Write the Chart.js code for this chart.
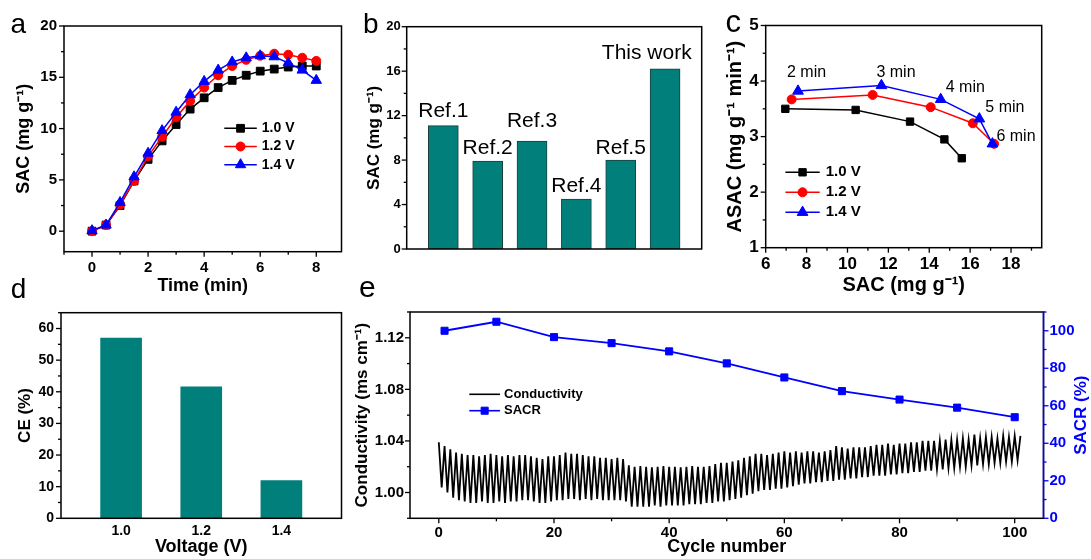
<!DOCTYPE html>
<html>
<head>
<meta charset="utf-8">
<title>Desalination performance</title>
<script src="https://cdn.jsdelivr.net/npm/chart.js@4.4.1/dist/chart.umd.min.js"></script>
<style>
  html, body { margin: 0; padding: 0; background: #fff; }
  #page { position: relative; width: 1091px; height: 559px; overflow: hidden; background: #fff; }
  #page canvas { position: absolute; left: 0; top: 0; }
  .tag { position: absolute; font-family: 'Liberation Sans', Arial, sans-serif; color: #000; white-space: nowrap; }
</style>
</head>
<body>
<div id="page">
  <canvas id="chartA" width="1091" height="559"></canvas>
  <canvas id="chartB" width="1091" height="559"></canvas>
  <canvas id="chartC" width="1091" height="559"></canvas>
  <canvas id="chartD" width="1091" height="559"></canvas>
  <canvas id="chartE" width="1091" height="559"></canvas>
  <div class="tag" style="left:10.5px;top:9.6px;font-size:28px;line-height:28px">a</div>
  <div class="tag" style="left:363px;top:9.6px;font-size:28px;line-height:28px">b</div>
  <div class="tag" style="left:725.5px;top:6.1px;font-size:31px;line-height:31px">c</div>
  <div class="tag" style="left:10.7px;top:274.6px;font-size:28px;line-height:28px">d</div>
  <div class="tag" style="left:359px;top:272px;font-size:30px;line-height:30px">e</div>
</div>
<script>
// ---------- (a) SAC vs time ----------
const voltLabels = ['1.0 V', '1.2 V', '1.4 V'];
const timeMin = [0, 0.5, 1, 1.5, 2, 2.5, 3, 3.5, 4, 4.5, 5, 5.5, 6, 6.5, 7, 7.5, 8];
const sac10V = [0, 0.6, 2.5, 4.9, 7.0, 8.8, 10.4, 11.9, 13.0, 14.0, 14.7, 15.2, 15.6, 15.8, 16.0, 16.1, 16.1];
const sac12V = [0, 0.6, 2.6, 4.9, 7.3, 9.2, 11.1, 12.7, 14.0, 15.2, 16.1, 16.7, 17.1, 17.3, 17.2, 16.9, 16.6];
const sac14V = [0.05, 0.6, 2.8, 5.3, 7.6, 9.8, 11.6, 13.3, 14.6, 15.7, 16.5, 16.9, 17.1, 17.0, 16.4, 15.7, 14.7];
const timeTicks = [0, 2, 4, 6, 8];
const sacTicksA = [0, 5, 10, 15, 20];

// ---------- (b) comparison with literature ----------
const refNames = ['Ref.1', 'Ref.2', 'Ref.3', 'Ref.4', 'Ref.5', 'This work'];
const refSac = [11.1, 7.9, 9.7, 4.5, 8.0, 16.2];
const sacTicksB = [0, 4, 8, 12, 16, 20];

// ---------- (c) Kim-Yoon plot ----------
const cMinutes = ['2 min', '3 min', '4 min', '5 min', '6 min'];
const cSac10V = [6.96, 10.40, 13.06, 14.74, 15.59];
const cAsac10V = [3.50, 3.48, 3.27, 2.95, 2.61];
const cSac12V = [7.27, 11.23, 14.07, 16.13, 17.17];
const cAsac12V = [3.67, 3.75, 3.53, 3.24, 2.87];
const cSac14V = [7.58, 11.66, 14.56, 16.45, 17.09];
const cAsac14V = [3.82, 3.92, 3.67, 3.32, 2.87];
const sacTicksC = [6, 8, 10, 12, 14, 16, 18];
const asacTicks = [1, 2, 3, 4, 5];

// ---------- (d) charge efficiency ----------
const voltages = [1.0, 1.2, 1.4];
const ceValues = [57.0, 41.6, 11.9];
const ceTicks = [0, 10, 20, 30, 40, 50, 60];

// ---------- (e) cycling ----------
const sacrCycles = [1, 10, 20, 30, 40, 50, 60, 70, 80, 90, 100];
const sacrValues = [100.0, 104.8, 96.6, 93.4, 89.0, 82.6, 75.1, 67.8, 63.3, 59.0, 53.9];
// conductivity maximum at the start of each cycle (cycles 0..101)
const condPeaks = [
  1.039, 1.036, 1.0335, 1.031, 1.030, 1.029, 1.029, 1.028, 1.029, 1.030,
  1.029, 1.028, 1.029, 1.028, 1.029, 1.029, 1.028, 1.027, 1.026, 1.028,
  1.028, 1.029, 1.031, 1.030, 1.030, 1.029, 1.028, 1.028, 1.027, 1.027,
  1.026, 1.027, 1.026, 1.021, 1.020, 1.0205, 1.020, 1.0195, 1.020, 1.0205,
  1.020, 1.020, 1.0195, 1.020, 1.0205, 1.020, 1.020, 1.0205, 1.022, 1.023,
  1.023, 1.024, 1.025, 1.027, 1.028, 1.030, 1.030, 1.029, 1.030, 1.031,
  1.032, 1.031, 1.032, 1.031, 1.032, 1.032, 1.031, 1.032, 1.033, 1.036,
  1.035, 1.034, 1.035, 1.035, 1.035, 1.036, 1.037, 1.037, 1.038, 1.037,
  1.038, 1.038, 1.039, 1.039, 1.040, 1.040, 1.040, 1.040, 1.041, 1.041,
  1.041, 1.042, 1.041, 1.045, 1.042, 1.043, 1.043, 1.042, 1.044, 1.043,
  1.044, 1.044
];
// conductivity minimum reached within each cycle (cycles 0..100)
const condTroughs = [
  1.004, 1.000, 0.996, 0.994, 0.993, 0.992, 0.992, 0.993, 0.992, 0.992,
  0.993, 0.992, 0.993, 0.993, 0.994, 0.994, 0.993, 0.992, 0.992, 0.993,
  0.994, 0.994, 0.995, 0.995, 0.994, 0.995, 0.994, 0.995, 0.994, 0.994,
  0.994, 0.994, 0.993, 0.989, 0.989, 0.989, 0.989, 0.990, 0.989, 0.990,
  0.990, 0.990, 0.990, 0.991, 0.991, 0.991, 0.992, 0.992, 0.993, 0.993,
  0.994, 0.995, 0.996, 0.998, 0.999, 1.001, 1.002, 1.002, 1.003, 1.003,
  1.004, 1.005, 1.006, 1.007, 1.007, 1.008, 1.008, 1.009, 1.009, 1.010,
  1.010, 1.011, 1.011, 1.012, 1.012, 1.013, 1.013, 1.013, 1.014, 1.014,
  1.015, 1.015, 1.016, 1.016, 1.017, 1.017, 1.018, 1.018, 1.019, 1.019,
  1.020, 1.020, 1.021, 1.021, 1.022, 1.022, 1.023, 1.023, 1.024, 1.024,
  1.025
];
const cycleTicks = [0, 20, 40, 60, 80, 100];
const condTicks = [1.00, 1.04, 1.08, 1.12];
const sacrTicks = [0, 20, 40, 60, 80, 100];

// ---------- shared helpers ----------
const FONT = "'Liberation Sans', Arial, Helvetica, sans-serif";
const TEAL = '#007f7b';
Chart.defaults.font.family = FONT;
Chart.defaults.color = '#000';

function bold(size) { return { family: FONT, size: size, weight: 'bold' }; }

// major ticks plus one minor tick half-way between them (and past the ends when in range)
function tickValues(majors, lo, hi, withMinor) {
  const out = majors.slice();
  if (withMinor && majors.length > 1) {
    const half = (majors[1] - majors[0]) / 2;
    for (let i = 0; i < majors.length - 1; i++) out.push(+((majors[i] + majors[i + 1]) / 2).toFixed(6));
    const first = majors[0] - half, last = majors[majors.length - 1] + half;
    if (first >= lo - 1e-9) out.push(+first.toFixed(6));
    if (last <= hi + 1e-9) out.push(+last.toFixed(6));
  }
  return out.sort((a, b) => a - b);
}

function linearAxis(c) {
  const values = tickValues(c.majors, c.min, c.max, c.minor !== false);
  return {
    type: 'linear', position: c.position, min: c.min, max: c.max, offset: false,
    grid: { display: false, drawTicks: false },
    border: { display: false },
    ticks: {
      autoSkip: false, maxRotation: 0, minRotation: 0, padding: c.pad,
      color: c.color || '#000', font: bold(c.size),
      callback: (v) => c.majors.some(m => Math.abs(m - v) < 1e-9) ? Number(v).toFixed(c.decimals) : ''
    },
    title: c.title
      ? { display: true, text: c.title, font: bold(c.titleSize), color: c.color || '#000', padding: 0 }
      : { display: false },
    afterBuildTicks: (s) => { s.ticks = values.map(v => ({ value: v })); },
    afterFit: (s) => {
      if (s.isHorizontal()) s.height = c.fit; else s.width = c.fit;
      s.paddingLeft = 0; s.paddingRight = 0; s.paddingTop = 0; s.paddingBottom = 0;
    }
  };
}

function series(label, xs, ys, color, style, r, order, extra) {
  return Object.assign({
    label: label,
    data: xs.map((x, i) => ({ x: x, y: ys[i] })),
    borderColor: color, backgroundColor: color,
    pointBackgroundColor: color, pointBorderColor: color,
    pointStyle: style, pointRadius: r, pointBorderWidth: 1,
    borderWidth: 1.5, tension: 0, order: order
  }, extra || {});
}

function baseOptions(o) {
  return {
    responsive: false, animation: false, devicePixelRatio: 1, events: [],
    layout: { padding: o.padding },
    scales: o.scales,
    plugins: Object.assign({ legend: { display: false }, tooltip: { enabled: false } }, o.plugins)
  };
}

// plot frame with outward major/minor tick marks
const boxPlugin = {
  id: 'box',
  afterDatasetsDraw(chart, _args, o) {
    const { ctx, chartArea: a } = chart;
    ctx.save();
    ctx.lineWidth = 1.3;
    (o.marks || []).forEach(m => {
      const s = chart.scales[m.id];
      ctx.strokeStyle = m.color || '#000';
      s.ticks.forEach(t => {
        const len = t.label === '' ? 3 : 5;
        const p = s.getPixelForValue(t.value);
        ctx.beginPath();
        if (s.position === 'bottom') { ctx.moveTo(p, a.bottom); ctx.lineTo(p, a.bottom + len); }
        else if (s.position === 'left') { ctx.moveTo(a.left, p); ctx.lineTo(a.left - len, p); }
        else { ctx.moveTo(a.right, p); ctx.lineTo(a.right + len, p); }
        ctx.stroke();
      });
    });
    ctx.lineWidth = 1.5;
    ctx.strokeStyle = '#000';
    ctx.strokeRect(a.left, a.top, a.right - a.left, a.bottom - a.top);
    if (o.rightColor) {
      ctx.strokeStyle = o.rightColor;
      ctx.beginPath(); ctx.moveTo(a.right, a.top); ctx.lineTo(a.right, a.bottom); ctx.stroke();
    }
    ctx.restore();
  }
};

// in-plot legend built from the datasets
const keyPlugin = {
  id: 'keys',
  afterDraw(chart, _args, o) {
    if (o.x === undefined) return;
    const { ctx, chartArea: a } = chart;
    ctx.save();
    chart.data.datasets.forEach((ds, i) => {
      const y = a.top + o.y + i * o.row;
      const x0 = a.left + o.x, x1 = x0 + o.line;
      ctx.strokeStyle = ds.borderColor; ctx.lineWidth = Math.min(ds.borderWidth, 1.6);
      ctx.beginPath(); ctx.moveTo(x0, y); ctx.lineTo(x1, y); ctx.stroke();
      if (ds.pointRadius > 0) {
        ctx.fillStyle = ds.pointBackgroundColor; ctx.strokeStyle = ds.pointBorderColor; ctx.lineWidth = 1;
        Chart.helpers.drawPoint(ctx, { pointStyle: ds.pointStyle, radius: ds.pointRadius, rotation: 0, borderWidth: 1 }, (x0 + x1) / 2, y);
      }
      ctx.fillStyle = '#000';
      ctx.font = 'bold ' + o.size + 'px ' + FONT;
      ctx.textBaseline = 'middle'; ctx.textAlign = 'left';
      ctx.fillText(ds.label, x1 + o.gap, y);
    });
    ctx.restore();
  }
};

// names written above the bars
const barTagPlugin = {
  id: 'barTags',
  afterDatasetsDraw(chart, _args, o) {
    if (!o.texts) return;
    const { ctx, chartArea: a } = chart;
    const bars = chart.getDatasetMeta(0).data;
    ctx.save();
    ctx.font = o.size + 'px ' + FONT; ctx.fillStyle = '#000';
    ctx.textBaseline = 'alphabetic'; ctx.textAlign = 'left';
    bars.forEach((bar, i) => {
      const w = ctx.measureText(o.texts[i]).width;
      const left = Math.min(bar.x - w / 2, a.right - o.inset - w);
      ctx.fillText(o.texts[i], left, bar.y - o.lifts[i]);
    });
    ctx.restore();
  }
};

// time stamps next to the points of one series
const pointTagPlugin = {
  id: 'pointTags',
  afterDatasetsDraw(chart, _args, o) {
    if (!o.texts) return;
    const { ctx } = chart;
    const pts = chart.getDatasetMeta(o.dataset).data;
    ctx.save();
    ctx.font = o.size + 'px ' + FONT; ctx.fillStyle = '#000';
    ctx.textBaseline = 'middle'; ctx.textAlign = 'left';
    pts.forEach((p, i) => ctx.fillText(o.texts[i], p.x + o.offsets[i][0], p.y + o.offsets[i][1]));
    ctx.restore();
  }
};

// right-hand axis title reading bottom to top
const sideTitlePlugin = {
  id: 'sideTitle',
  afterDraw(chart, _args, o) {
    if (!o.text) return;
    const { ctx, chartArea: a } = chart;
    ctx.save();
    ctx.translate(a.right + o.dx, (a.top + a.bottom) / 2);
    ctx.rotate(-Math.PI / 2);
    ctx.font = 'bold ' + o.size + 'px ' + FONT; ctx.fillStyle = o.color;
    ctx.textAlign = 'center'; ctx.textBaseline = 'middle';
    ctx.fillText(o.text, 0, 0);
    ctx.restore();
  }
};

// ---------- (a) ----------
new Chart(document.getElementById('chartA'), {
  type: 'line',
  data: { datasets: [
    series(voltLabels[0], timeMin, sac10V, '#000000', 'rect', 5.5, 2),
    series(voltLabels[1], timeMin, sac12V, '#ff0000', 'circle', 4.5, 1),
    series(voltLabels[2], timeMin, sac14V, '#0000ff', 'triangle', 6, 0)
  ] },
  options: baseOptions({
    padding: { left: 13.7, top: 26, right: 749.5, bottom: 262.2 },
    scales: {
      x: linearAxis({ position: 'bottom', min: -1, max: 8.9, majors: timeTicks, decimals: 0, size: 15, pad: 7, title: 'Time (min)', titleSize: 18, fit: 45.1 }),
      y: linearAxis({ position: 'left', min: -2, max: 20, majors: sacTicksA, decimals: 0, size: 15, pad: 7, title: 'SAC (mg g\u207B\u00B9)', titleSize: 18, fit: 50.3 })
    },
    plugins: {
      box: { marks: [{ id: 'x' }, { id: 'y' }] },
      keys: { x: 160.3, y: 102.3, row: 18.2, line: 32.5, gap: 5, size: 14 }
    }
  }),
  plugins: [boxPlugin, keyPlugin]
});

// ---------- (b) ----------
new Chart(document.getElementById('chartB'), {
  type: 'bar',
  data: { datasets: [{
    label: 'SAC',
    data: refSac.map((v, i) => ({ x: i + 1, y: v })),
    backgroundColor: TEAL, borderColor: '#1d3f3c', borderWidth: 1, borderSkipped: false, barThickness: 30
  }] },
  options: baseOptions({
    padding: { left: 363.8, top: 26.7, right: 389.3, bottom: 310 },
    scales: {
      x: { type: 'linear', display: false, min: 0.174, max: 6.826, offset: false },
      y: linearAxis({ position: 'left', min: 0, max: 20, majors: sacTicksB, decimals: 0, size: 13, pad: 6, title: 'SAC (mg g\u207B\u00B9)', titleSize: 17, fit: 42.9 })
    },
    plugins: {
      box: { marks: [{ id: 'y' }] },
      barTags: { texts: refNames, lifts: [9, 7, 14, 7, 6, 10], size: 21, inset: 10 }
    }
  }),
  plugins: [boxPlugin, barTagPlugin]
});

// ---------- (c) ----------
new Chart(document.getElementById('chartC'), {
  type: 'line',
  data: { datasets: [
    series(voltLabels[0], cSac10V, cAsac10V, '#000000', 'rect', 5.2, 2),
    series(voltLabels[1], cSac12V, cAsac12V, '#ff0000', 'circle', 4.5, 1),
    series(voltLabels[2], cSac14V, cAsac14V, '#0000ff', 'triangle', 6.2, 0)
  ] },
  options: baseOptions({
    padding: { left: 723, top: 25.5, right: 49.3, bottom: 262 },
    scales: {
      x: linearAxis({ position: 'bottom', min: 6, max: 19.5, majors: sacTicksC, decimals: 0, size: 17, pad: 6, title: 'SAC (mg g\u207B\u00B9)', titleSize: 20, fit: 49.3 }),
      y: linearAxis({ position: 'left', min: 1, max: 5, majors: asacTicks, decimals: 0, size: 17, pad: 7, title: 'ASAC (mg g\u207B\u00B9 min\u207B\u00B9)', titleSize: 20, fit: 42.7 })
    },
    plugins: {
      box: { marks: [{ id: 'x' }, { id: 'y' }] },
      keys: { x: 19.7, y: 146.8, row: 20, line: 34.3, gap: 6, size: 15 },
      pointTags: { dataset: 2, texts: cMinutes, offsets: [[-11, -18], [-5, -13], [5, -12], [6, -11], [4, -7]], size: 16 }
    }
  }),
  plugins: [boxPlugin, keyPlugin, pointTagPlugin]
});

// ---------- (d) ----------
new Chart(document.getElementById('chartD'), {
  type: 'bar',
  data: { datasets: [{
    label: 'CE',
    data: ceValues.map((v, i) => ({ x: voltages[i], y: v })),
    backgroundColor: TEAL, borderWidth: 0, barThickness: 41
  }] },
  options: baseOptions({
    padding: { left: 15.3, top: 312.7, right: 749.5, bottom: 1.2 },
    scales: {
      x: linearAxis({ position: 'bottom', min: 0.85, max: 1.55, majors: voltages, minor: false, decimals: 1, size: 14, pad: 4, title: 'Voltage (V)', titleSize: 18, fit: 39.5 }),
      y: linearAxis({ position: 'left', min: 0, max: 65, majors: ceTicks, decimals: 0, size: 14, pad: 7, title: 'CE (%)', titleSize: 17, fit: 45.7 })
    },
    plugins: { box: { marks: [{ id: 'y' }] } }
  }),
  plugins: [boxPlugin]
});

// ---------- (e) ----------
const condTrace = [];
condTroughs.forEach((t, i) => {
  condTrace.push({ x: i, y: condPeaks[i] });
  condTrace.push({ x: i + 0.5, y: t });
});
condTrace.push({ x: condTroughs.length, y: condPeaks[condTroughs.length] });

new Chart(document.getElementById('chartE'), {
  type: 'line',
  data: { datasets: [
    { label: 'Conductivity', data: condTrace, yAxisID: 'y', borderColor: '#000000', borderWidth: 1.8,
      pointRadius: 0, tension: 0, order: 1 },
    series('SACR', sacrCycles, sacrValues, '#0000ff', 'rect', 5, 0, { yAxisID: 'y2', borderWidth: 1.8 })
  ] },
  options: baseOptions({
    padding: { left: 351.8, top: 312, right: 0, bottom: 1.2 },
    scales: {
      x: linearAxis({ position: 'bottom', min: -5, max: 105, majors: cycleTicks, decimals: 0, size: 15, pad: 6, title: 'Cycle number', titleSize: 18, fit: 39.5 }),
      y: linearAxis({ position: 'left', min: 0.98, max: 1.14, majors: condTicks, decimals: 2, size: 15, pad: 6, title: 'Conductivity (ms cm\u207B\u00B9)', titleSize: 17, fit: 58.2 }),
      y2: linearAxis({ position: 'right', min: 0, max: 110, majors: sacrTicks, decimals: 0, size: 15, pad: 6, color: '#0000ff', fit: 47.5 })
    },
    plugins: {
      box: { marks: [{ id: 'x' }, { id: 'y' }, { id: 'y2', color: '#0000ff' }], rightColor: '#0000ff' },
      keys: { x: 59.3, y: 82.3, row: 16.4, line: 30.7, gap: 4, size: 13 },
      sideTitle: { text: 'SACR (%)', dx: 38, size: 17, color: '#0000ff' }
    }
  }),
  plugins: [boxPlugin, keyPlugin, sideTitlePlugin]
});
</script>
</body>
</html>
